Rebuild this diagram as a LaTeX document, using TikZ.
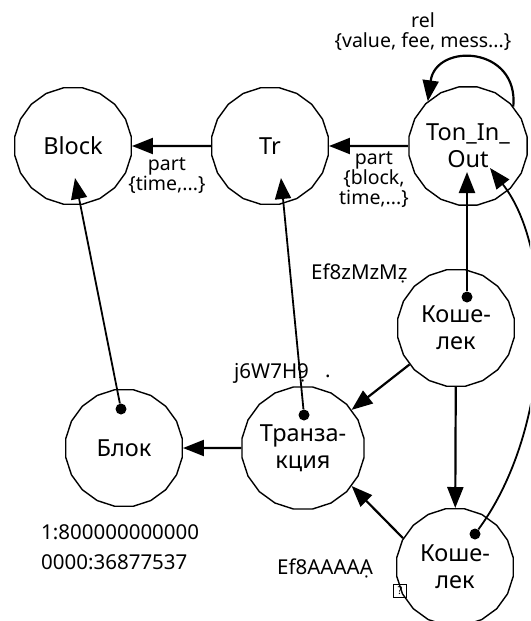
\documentclass[tikz,border=0pt]{standalone}
\usepackage{fontspec}
\setmainfont{Noto Sans}
\usetikzlibrary{shapes.geometric,arrows.meta}

\tikzset{
  entity/.style={regular polygon, regular polygon sides=20, draw, line width=1.4pt,
    minimum size=118pt, inner sep=0pt, align=center,
    font=\fontsize{23.5}{27}\selectfont},
  link/.style={line width=2.2pt, -{Triangle[length=21pt,width=16pt]}},
  thinlink/.style={line width=1.8pt, -{Triangle[length=21pt,width=16pt]}},
  anchordot/.style={circle, fill, inner sep=0pt, minimum size=11pt},
  edgelabel/.style={align=center, inner sep=0pt, font=\fontsize{19.5}{20}\selectfont},
  note/.style={inner sep=0pt, anchor=west, font=\fontsize{20.5}{30}\selectfont},
}

\begin{document}
\begin{tikzpicture}[x=1pt,y=-1pt]
\useasboundingbox (0,0) rectangle (530,621);
\clip (0,0) rectangle (530,621);

% schema level
\node[entity] (block) at (73,146) {Block};
\node[entity] (tr)    at (270,146) {Tr};
\node[entity] (ton)   at (468,146) {Ton\_In\_\\Out};

% instance level
\node[entity] (wal1)  at (456,328) {Коше-\\лек};
\node[entity] (trx)   at (303,448) {Транза-\\кция};
\node[entity] (blk)   at (124,448) {Блок};
\node[entity] (wal2)  at (455,567) {Коше-\\лек};

% instance-of markers
\node[anchordot] (dblk)  at (121,409) {};
\node[anchordot] (dtrx)  at (304,415) {};
\node[anchordot] (dwal1) at (467,297) {};
\node[anchordot] (dwal2) at (475,534) {};

\coordinate (tblock) at (75,178);
\coordinate (ttr)    at (281,178);
\coordinate (tton1)  at (467,172);
\coordinate (tton2)  at (490,168);

% relations between schema entities
\draw[link] (tr) -- (block);
\draw[link] (ton) -- (tr);
\draw[link] (ton.41) .. controls (519,46) and (436,42) .. (ton.132);

\node[edgelabel] (lpart1) at (167,176) {part\\\{time,...\}};
\node[edgelabel] (lpart2) at (374,180) {part\\\{block,\\time,...\}};
\node[edgelabel] (lrel)   at (423,32) {rel\\\{value, fee, mess...\}};

% relations between instances
\draw[link] (trx) -- (blk);
\draw[link] (wal1) -- (trx);
\draw[link] (wal1) -- (wal2);
\draw[link] (wal2.151) -- (trx.-38);

% instance-of links
\draw[thinlink] (dblk) -- (tblock);
\draw[thinlink] (dtrx) -- (ttr);
\draw[link] (dwal1) -- (tton1);
\draw[thinlink] (dwal2) .. controls (553,428) and (556,252) .. (tton2);

% identifiers
\node[note] (idw1) at (311,273) {Ef8zMzMẓ};
\node[note] (idtx) at (234,373) {j6W7H9̣};
\node[note] (dotx) at (325,376) {.};
\node[note] (idw2) at (277,568) {Ef8AAAAẠ};
\node[draw, line width=0.9pt, inner sep=0.5pt, minimum width=13pt, minimum height=13pt,
      font=\fontsize{11}{11}\bfseries\selectfont] (qbox) at (400,591) {?};
\node[note, align=left] (idblk) at (41,547)
  {1:800000000000\\0000:36877537};
\end{tikzpicture}
\end{document}
